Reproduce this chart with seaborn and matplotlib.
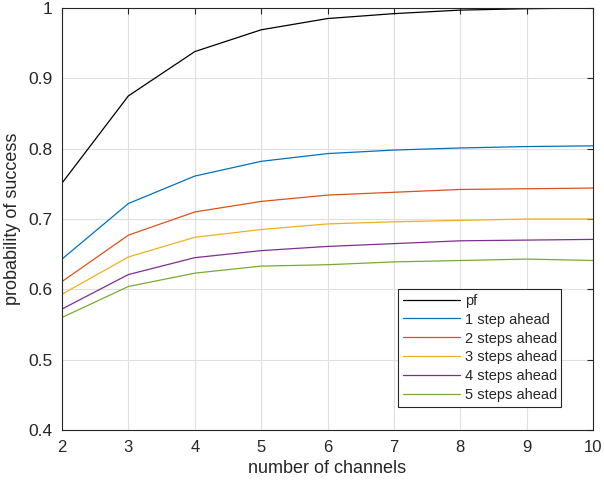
import matplotlib
matplotlib.use("Agg")
import matplotlib.pyplot as plt
import seaborn as sns
import pandas as pd

channels = [2, 3, 4, 5, 6, 7, 8, 9, 10]
pf = [0.751, 0.875, 0.938, 0.969, 0.985, 0.992, 0.997, 0.999, 1.000]
step1 = [0.643, 0.722, 0.761, 0.782, 0.793, 0.798, 0.801, 0.803, 0.804]
step2 = [0.611, 0.677, 0.710, 0.725, 0.734, 0.738, 0.742, 0.743, 0.744]
step3 = [0.593, 0.646, 0.674, 0.685, 0.693, 0.696, 0.698, 0.700, 0.700]
step4 = [0.572, 0.621, 0.645, 0.655, 0.661, 0.665, 0.669, 0.670, 0.671]
step5 = [0.560, 0.604, 0.623, 0.633, 0.635, 0.639, 0.641, 0.643, 0.641]
series_names = ["pf", "1 step ahead", "2 steps ahead", "3 steps ahead",
                "4 steps ahead", "5 steps ahead"]
colors = ["#000000", "#0072BD", "#D95319", "#EDB120", "#7E2F8E", "#77AC30"]

rows = []
for name, vals in zip(series_names, [pf, step1, step2, step3, step4, step5]):
    for c, v in zip(channels, vals):
        rows.append({"channels": c, "p": v, "series": name})
df = pd.DataFrame(rows)

sns.set_style("white")
plt.rcParams["font.family"] = ["Liberation Sans", "DejaVu Sans"]

fig = plt.figure(figsize=(6.04, 4.82), dpi=100)
ax = fig.add_axes([0.1026, 0.1079, 0.8794, 0.8755])

sns.lineplot(data=df, x="channels", y="p", hue="series", hue_order=series_names,
             palette=colors, linewidth=0.9, ax=ax, legend=True)

ax.set_xlim(2, 10)
ax.set_ylim(0.4, 1.0)
ax.set_xticks(channels)
ax.set_yticks([0.4, 0.5, 0.6, 0.7, 0.8, 0.9, 1.0])
ax.set_yticklabels(["0.4", "0.5", "0.6", "0.7", "0.8", "0.9", "1"])
ax.grid(True, color="#dfdfdf", linewidth=0.8)
ax.set_axisbelow(True)
ax.tick_params(direction="in", length=4, width=0.8, top=True, right=True,
               colors="#262626")
ax.tick_params(axis="y", labelsize=12.5, pad=7)
ax.tick_params(axis="x", labelsize=12, pad=7)
for s in ax.spines.values():
    s.set_color("#262626")
    s.set_linewidth(0.8)
ax.set_xlabel("number of channels", fontsize=13, color="#262626", labelpad=4)
ax.set_ylabel("probability of success", fontsize=13, color="#262626", labelpad=5)

leg = ax.legend(loc="lower right", bbox_to_anchor=(0.94, 0.055), fontsize=10.5,
                frameon=True, fancybox=False, edgecolor="#262626",
                handlelength=3.9, handletextpad=0.35, labelspacing=0.34,
                borderpad=0.3, borderaxespad=0)
leg.get_frame().set_linewidth(0.8)
leg.get_frame().set_alpha(1)

fig.savefig("out.png", dpi=100)
